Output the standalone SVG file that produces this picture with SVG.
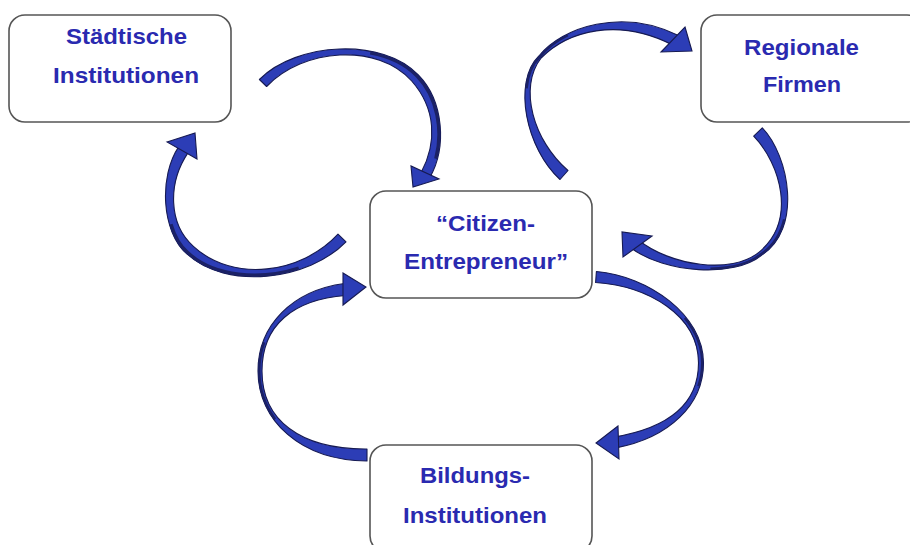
<svg xmlns="http://www.w3.org/2000/svg" xmlns:xlink="http://www.w3.org/1999/xlink" width="910" height="545" viewBox="0 0 910 545">
  <defs>
    <style>
      .box { fill: #ffffff; stroke: #555555; stroke-width: 1.6; }
      .label { font-family: "Liberation Sans", Arial, sans-serif; font-weight: bold; font-size: 22px; fill: #2a2ab0; text-anchor: middle; }
      .band { fill: #2c3db6; stroke: #161a52; stroke-width: 1.1; stroke-linejoin: round; }
      .back { fill: none; stroke: #1b2166; stroke-width: 5; }
      .back-wide { fill: none; stroke: #1b2166; stroke-width: 6.5; }
      .head { fill: #2c3db6; stroke: #161a52; stroke-width: 1.1; stroke-linejoin: miter; }
    </style>
    <!-- tapered ribbon bodies of the curved arrows -->
    <path id="b1" d="M259.4,79.5 C296.8,41.9 382.9,37.3 418.3,75 C444,101.3 446.8,147.7 429.9,177.4 L421.1,172.6 C437.2,142.4 436,108.7 411.7,81 C377.1,42.7 303.2,48.1 266.6,86.5 Z"/>
    <path id="b2" d="M346,241.8 C308.6,280.4 226.6,290.7 186.6,253.7 C161.7,231.8 158.4,176.9 178.9,146.4 L188.1,152.6 C167.6,183.1 168.3,224.2 193.4,246.3 C233.4,283.3 301.4,273.6 338,234.2 Z"/>
    <path id="b3" d="M560,179.5 C526.4,149.1 512,82.3 538.9,56 C562.4,26.7 622.3,7.5 678.5,35.6 L673.5,45.4 C617.7,16.5 567.6,31.3 541.1,58 C518,87.7 533.6,140.9 568,170.5 Z"/>
    <path id="b4" d="M762.3,127.8 C789.3,155.8 802.9,229.1 761.2,255.6 C734.3,277.6 665.2,273.6 630.6,247.8 L637.4,239.2 C670.8,266.5 731.7,274.4 758.8,252.4 C797.1,220.9 780.7,164.2 753.7,136.2 Z"/>
    <path id="b5" d="M596.4,271.5 C648.4,276 703.5,315 703.5,363 C703.5,405 668.9,437.9 616,447.9 L614,437.1 C667.1,428.1 698.5,405 698.5,363 C698.5,315 647.6,286 595.6,282.5 Z"/>
    <path id="b6" d="M367,461 C300,460.5 258,420 258,371 C258,325 292.5,290.5 344.4,283.5 L345.6,295.5 C293.5,299.5 262,325 262,371 C262,420 300,449.5 367,449 Z"/>
    <clipPath id="c1"><use xlink:href="#b1"/></clipPath>
    <clipPath id="c2"><use xlink:href="#b2"/></clipPath>
    <clipPath id="c3"><use xlink:href="#b3"/></clipPath>
    <clipPath id="c4"><use xlink:href="#b4"/></clipPath>
    <clipPath id="c5"><use xlink:href="#b5"/></clipPath>
    <clipPath id="c6"><use xlink:href="#b6"/></clipPath>
  </defs>
  <rect width="910" height="545" fill="#ffffff"/>

  <!-- curved arrows between the actors -->
  <g id="connectors">
    <!-- Städtische Institutionen -> Citizen-Entrepreneur -->
    <g id="arrow-staedtisch-citizen">
      <use xlink:href="#b1" class="band"/>
      <path class="back-wide" clip-path="url(#c1)" pathLength="100" stroke-dasharray="0 42 51 100" d="M259.4,79.5 C296.8,41.9 382.9,37.3 418.3,75 C444,101.3 446.8,147.7 429.9,177.4"/>
      <polygon class="head" points="411,166 413,187 439,179"/>
    </g>
    <!-- Citizen-Entrepreneur -> Städtische Institutionen -->
    <g id="arrow-citizen-staedtisch">
      <use xlink:href="#b2" class="band"/>
      <path class="back-wide" clip-path="url(#c2)" pathLength="100" stroke-dasharray="0 19 53 100" d="M346,241.8 C308.6,280.4 226.6,290.7 186.6,253.7 C161.7,231.8 158.4,176.9 178.9,146.4"/>
      <polygon class="head" points="167,142 195,133 197,159"/>
    </g>
    <!-- Citizen-Entrepreneur -> Regionale Firmen -->
    <g id="arrow-citizen-regional">
      <use xlink:href="#b3" class="band"/>
      <path class="back" clip-path="url(#c3)" pathLength="100" stroke-dasharray="0 35 25 100" d="M560,179.5 C526.4,149.1 512,82.3 538.9,56 C562.4,26.7 622.3,7.5 678.5,35.6"/>
      <polygon class="head" points="685,27 692,51 661,52"/>
    </g>
    <!-- Regionale Firmen -> Citizen-Entrepreneur -->
    <g id="arrow-regional-citizen">
      <use xlink:href="#b4" class="band"/>
      <path class="back" clip-path="url(#c4)" pathLength="100" stroke-dasharray="0 35 35 100" d="M762.3,127.8 C789.3,155.8 802.9,229.1 761.2,255.6 C734.3,277.6 665.2,273.6 630.6,247.8"/>
      <polygon class="head" points="652,236 622,232 623,257"/>
    </g>
    <!-- Citizen-Entrepreneur -> Bildungs-Institutionen -->
    <g id="arrow-citizen-bildung">
      <use xlink:href="#b5" class="band"/>
      <path class="back" clip-path="url(#c5)" pathLength="100" stroke-dasharray="0 36 26 100" d="M596.4,271.5 C648.4,276 703.5,315 703.5,363 C703.5,405 668.9,437.9 616,447.9"/>
      <polygon class="head" points="618,426 596,443 619,459"/>
    </g>
    <!-- Bildungs-Institutionen -> Citizen-Entrepreneur -->
    <g id="arrow-bildung-citizen">
      <use xlink:href="#b6" class="band"/>
      <path class="back" clip-path="url(#c6)" pathLength="100" stroke-dasharray="0 36 28 100" d="M367,461 C300,460.5 258,420 258,371 C258,325 292.5,290.5 344.4,283.5"/>
      <polygon class="head" points="343,273 366,287 343,305"/>
    </g>
  </g>

  <!-- nodes -->
  <g id="staedtische-institutionen">
    <rect class="box" x="9" y="15" width="222" height="107" rx="16"/>
    <text class="label" x="126.5" y="44" textLength="121" lengthAdjust="spacingAndGlyphs">Städtische</text>
    <text class="label" x="126" y="83" textLength="146" lengthAdjust="spacingAndGlyphs">Institutionen</text>
  </g>
  <g id="regionale-firmen">
    <rect class="box" x="701" y="15" width="222" height="107" rx="16"/>
    <text class="label" x="801.5" y="55" textLength="115" lengthAdjust="spacingAndGlyphs">Regionale</text>
    <text class="label" x="802" y="92" textLength="78" lengthAdjust="spacingAndGlyphs">Firmen</text>
  </g>
  <g id="citizen-entrepreneur">
    <rect class="box" x="370" y="191" width="222" height="107" rx="16"/>
    <text class="label" x="485.5" y="231" textLength="99" lengthAdjust="spacingAndGlyphs">“Citizen-</text>
    <text class="label" x="486" y="269" textLength="164" lengthAdjust="spacingAndGlyphs">Entrepreneur”</text>
  </g>
  <g id="bildungs-institutionen">
    <rect class="box" x="370" y="445" width="222" height="107" rx="16"/>
    <text class="label" x="475" y="483" textLength="110" lengthAdjust="spacingAndGlyphs">Bildungs-</text>
    <text class="label" x="475" y="523" textLength="144" lengthAdjust="spacingAndGlyphs">Institutionen</text>
  </g>
</svg>
